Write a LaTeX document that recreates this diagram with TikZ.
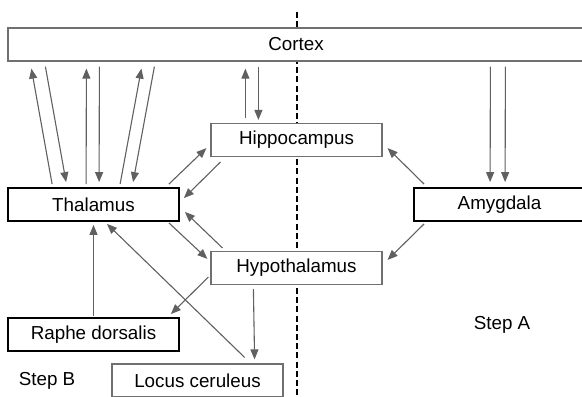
\documentclass[tikz,border=0pt]{standalone}
\usepackage{fontspec}
\setmainfont{Liberation Sans}
\usetikzlibrary{calc,arrows.meta}
\definecolor{arrowgray}{HTML}{606060}
\definecolor{boxgray}{HTML}{707070}

\begin{document}
\begin{tikzpicture}
  [x=0.5pt,y=-0.5pt,
   every node/.style={rectangle,fill=white,minimum width=85.5pt,minimum height=16.5pt,
     inner sep=0pt,font=\fontsize{9.4}{11}\selectfont},
   thin box/.style={draw=boxgray,line width=0.6pt},
   thick box/.style={draw=black,line width=0.9pt},
   link/.style={draw=arrowgray,line width=0.55pt,-{Triangle[length=5pt,width=4pt]}}]
  \useasboundingbox (0,0) rectangle (582,396);
  \draw[dashed,dash pattern=on 3pt off 1.6pt,line width=0.55pt] (297,12) -- (297,396);

  \node[thin box,minimum width=288pt] (cortex) at (296,44.5) {Cortex};
  \node[thin box] (hippo) at (296.5,140) {Hippocampus};
  \node[thin box] (hypo) at (296.5,268) {Hypothalamus};
  \node[thick box] (thal) at (93.5,204.5) {Thalamus};
  \node[thick box] (amyg) at (499.5,204.5) {Amygdala};
  \node[thick box] (raphe) at (93.5,334.5) {Raphe dorsalis};
  \node[thin box] (locus) at (197.5,380.5) {Locus ceruleus};
  \node[fill=none,minimum width=0pt] (stepA) at (502,325) {Step A};
  \node[fill=none,minimum width=0pt] (stepB) at (47,381) {Step B};

  % cortex <-> thalamus
  \foreach \a/\b in {45/24,79/79,113/134}
    \draw[link] ($(thal.north west)+(\a,-3)$) -- ($(cortex.south west)+(\b,7)$);
  \foreach \a/\b in {38/59,92/92,147/126}
    \draw[link] ($(cortex.south west)+(\a,5)$) -- ($(thal.north west)+(\b,-5)$);

  % cortex <-> hippocampus, cortex -> amygdala
  \draw[link] ($(hippo.north west)+(35,-5)$) -- ($(cortex.south west)+(238,7)$);
  \draw[link] ($(cortex.south west)+(251,5)$) -- ($(hippo.north west)+(48,-3)$);
  \foreach \a in {77,92}
    \draw[link] ($(cortex.south west)+(\a+406,5)$) -- ($(amyg.north west)+(\a,-5)$);

  % limbic loop
  \draw[link] ($(thal.north east)+(-11,-3)$) -- ($(hippo.south west)+(-4,-9)$);
  \draw[link] ($(hippo.south west)+(10,5)$) -- ($(thal.north east)+(4,11)$);
  \draw[link] ($(thal.south east)+(-11,1)$) -- ($(hypo.north west)+(-3,8)$);
  \draw[link] ($(hypo.north west)+(12,-3)$) -- ($(thal.south east)+(5,-10)$);
  \draw[link] ($(amyg.north west)+(11,-3)$) -- ($(hippo.south east)+(5,-9)$);
  \draw[link] ($(amyg.south west)+(11,2)$) -- ($(hypo.north east)+(5,9)$);

  % brainstem
  \draw[link] ($(raphe.north)+(0,-1)$) -- ($(thal.south)+(0,3)$);
  \draw[link] ($(locus.north east)+(-39,-6)$) -- ($(thal.south)+(13.5,2)$);
  \draw[link] ($(hypo.west)+(-2,9)$) -- ($(raphe.north east)+(-9,-3)$);
  \draw[link] ($(hypo.south west)+(43,4)$) -- ($(locus.north east)+(-29,-4)$);

\end{tikzpicture}
\end{document}
